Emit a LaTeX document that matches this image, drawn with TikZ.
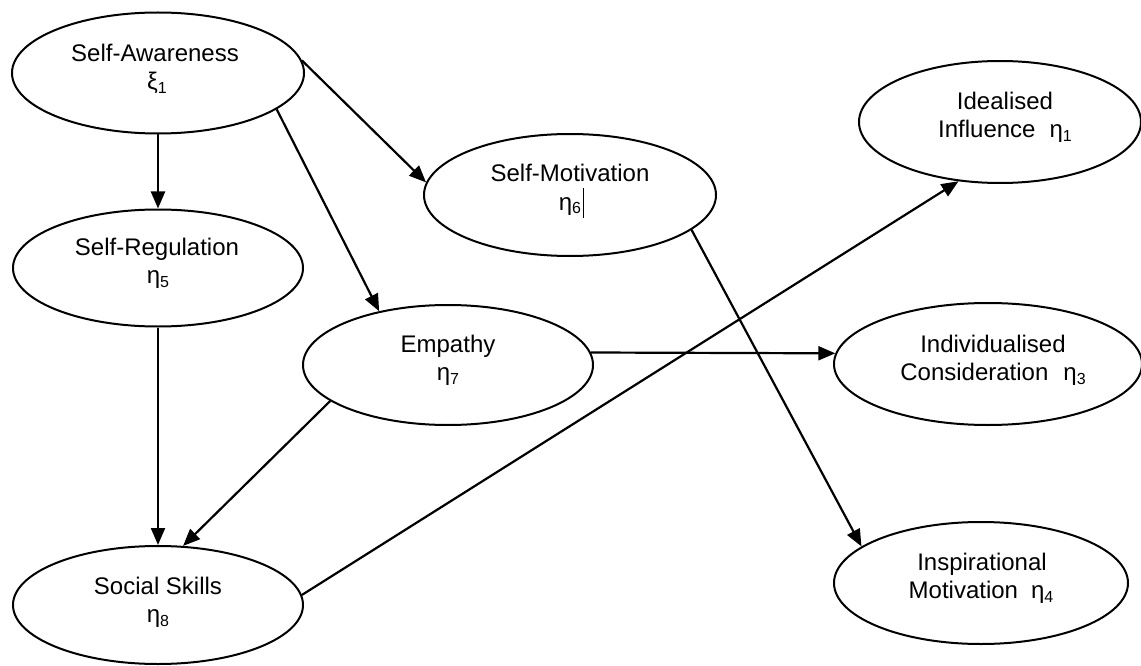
\documentclass[tikz,border=0pt]{standalone}
\usepackage{fontspec}
\setmainfont{Liberation Sans}
\usetikzlibrary{shapes.geometric,arrows.meta}

% lowered, smaller digit used as the index of a latent variable
\newcommand\lowdigit[1]{\raisebox{-4pt}{\fontsize{16}{16}\selectfont #1}}

\begin{document}
\begin{tikzpicture}[x=1pt,y=-1pt,
  latent/.style={ellipse, draw, line width=2pt, inner sep=0pt},
  txt/.style={anchor=base, inner sep=0pt, font=\fontsize{24}{28}\selectfont},
  link/.style={line width=2.2pt, -{Triangle[length=17pt,width=14pt]}}]

\useasboundingbox (0,0) rectangle (1141,666);

% latent variables
\node[latent, minimum width=292pt, minimum height=121pt] (sa) at (158,73)  {};
\node[latent, minimum width=290pt, minimum height=117pt] (sr) at (158,268) {};
\node[latent, minimum width=292pt, minimum height=122pt] (sm) at (570,195) {};
\node[latent, minimum width=290pt, minimum height=120pt] (em) at (448,365) {};
\node[latent, minimum width=290pt, minimum height=118pt] (ss) at (158,605) {};
\node[latent, minimum width=282pt, minimum height=122pt] (ii) at (1000,122) {};
\node[latent, minimum width=308pt, minimum height=122pt] (ic) at (988,364) {};
\node[latent, minimum width=294pt, minimum height=122pt] (im) at (981,583) {};

% labels
\node[txt] (sa-a) at (155,62)  {Self-Awareness};
\node[txt] (sa-b) at (157,90)  {ξ\lowdigit{1}};
\node[txt] (sr-a) at (157,255) {Self-Regulation};
\node[txt] (sr-b) at (158,283) {η\lowdigit{5}};
\node[txt] (sm-a) at (570,182) {Self-Motivation};
\node[txt] (sm-b) at (570,210) {η\lowdigit{6}\rlap{\hspace{1.5pt}\rule[-8pt]{0.9pt}{30pt}}};
\node[txt] (em-a) at (448,352) {Empathy};
\node[txt] (em-b) at (448,380) {η\lowdigit{7}};
\node[txt] (ss-a) at (158,594) {Social Skills};
\node[txt] (ss-b) at (158,622) {η\lowdigit{8}};
\node[txt] (ii-a) at (1005,110) {Idealised};
\node[txt] (ii-b) at (1005,138) {Influence\hspace{14pt}η\lowdigit{1}};
\node[txt] (ic-a) at (993,352) {Individualised};
\node[txt] (ic-b) at (993,380) {Consideration\hspace{15pt}η\lowdigit{3}};
\node[txt] (im-a) at (982,570) {Inspirational};
\node[txt] (im-b) at (981,598) {Motivation\hspace{13pt}η\lowdigit{4}};

% structural paths
\draw[link] (sa.south) -- (sr.north);
\draw[link] (sa.-17) -- (em.142);
\draw[link] (sa.5) -- (sm.175);
\draw[link] (sr.south) -- (ss.north);
\draw[link] (em.-163) -- (ss.67);
\draw[link] (em.5) -- (ic.176);
\draw[link] (sm.-16) -- (im.163);
\draw[link] (ss.4) -- (ii.-125);
\end{tikzpicture}
\end{document}
